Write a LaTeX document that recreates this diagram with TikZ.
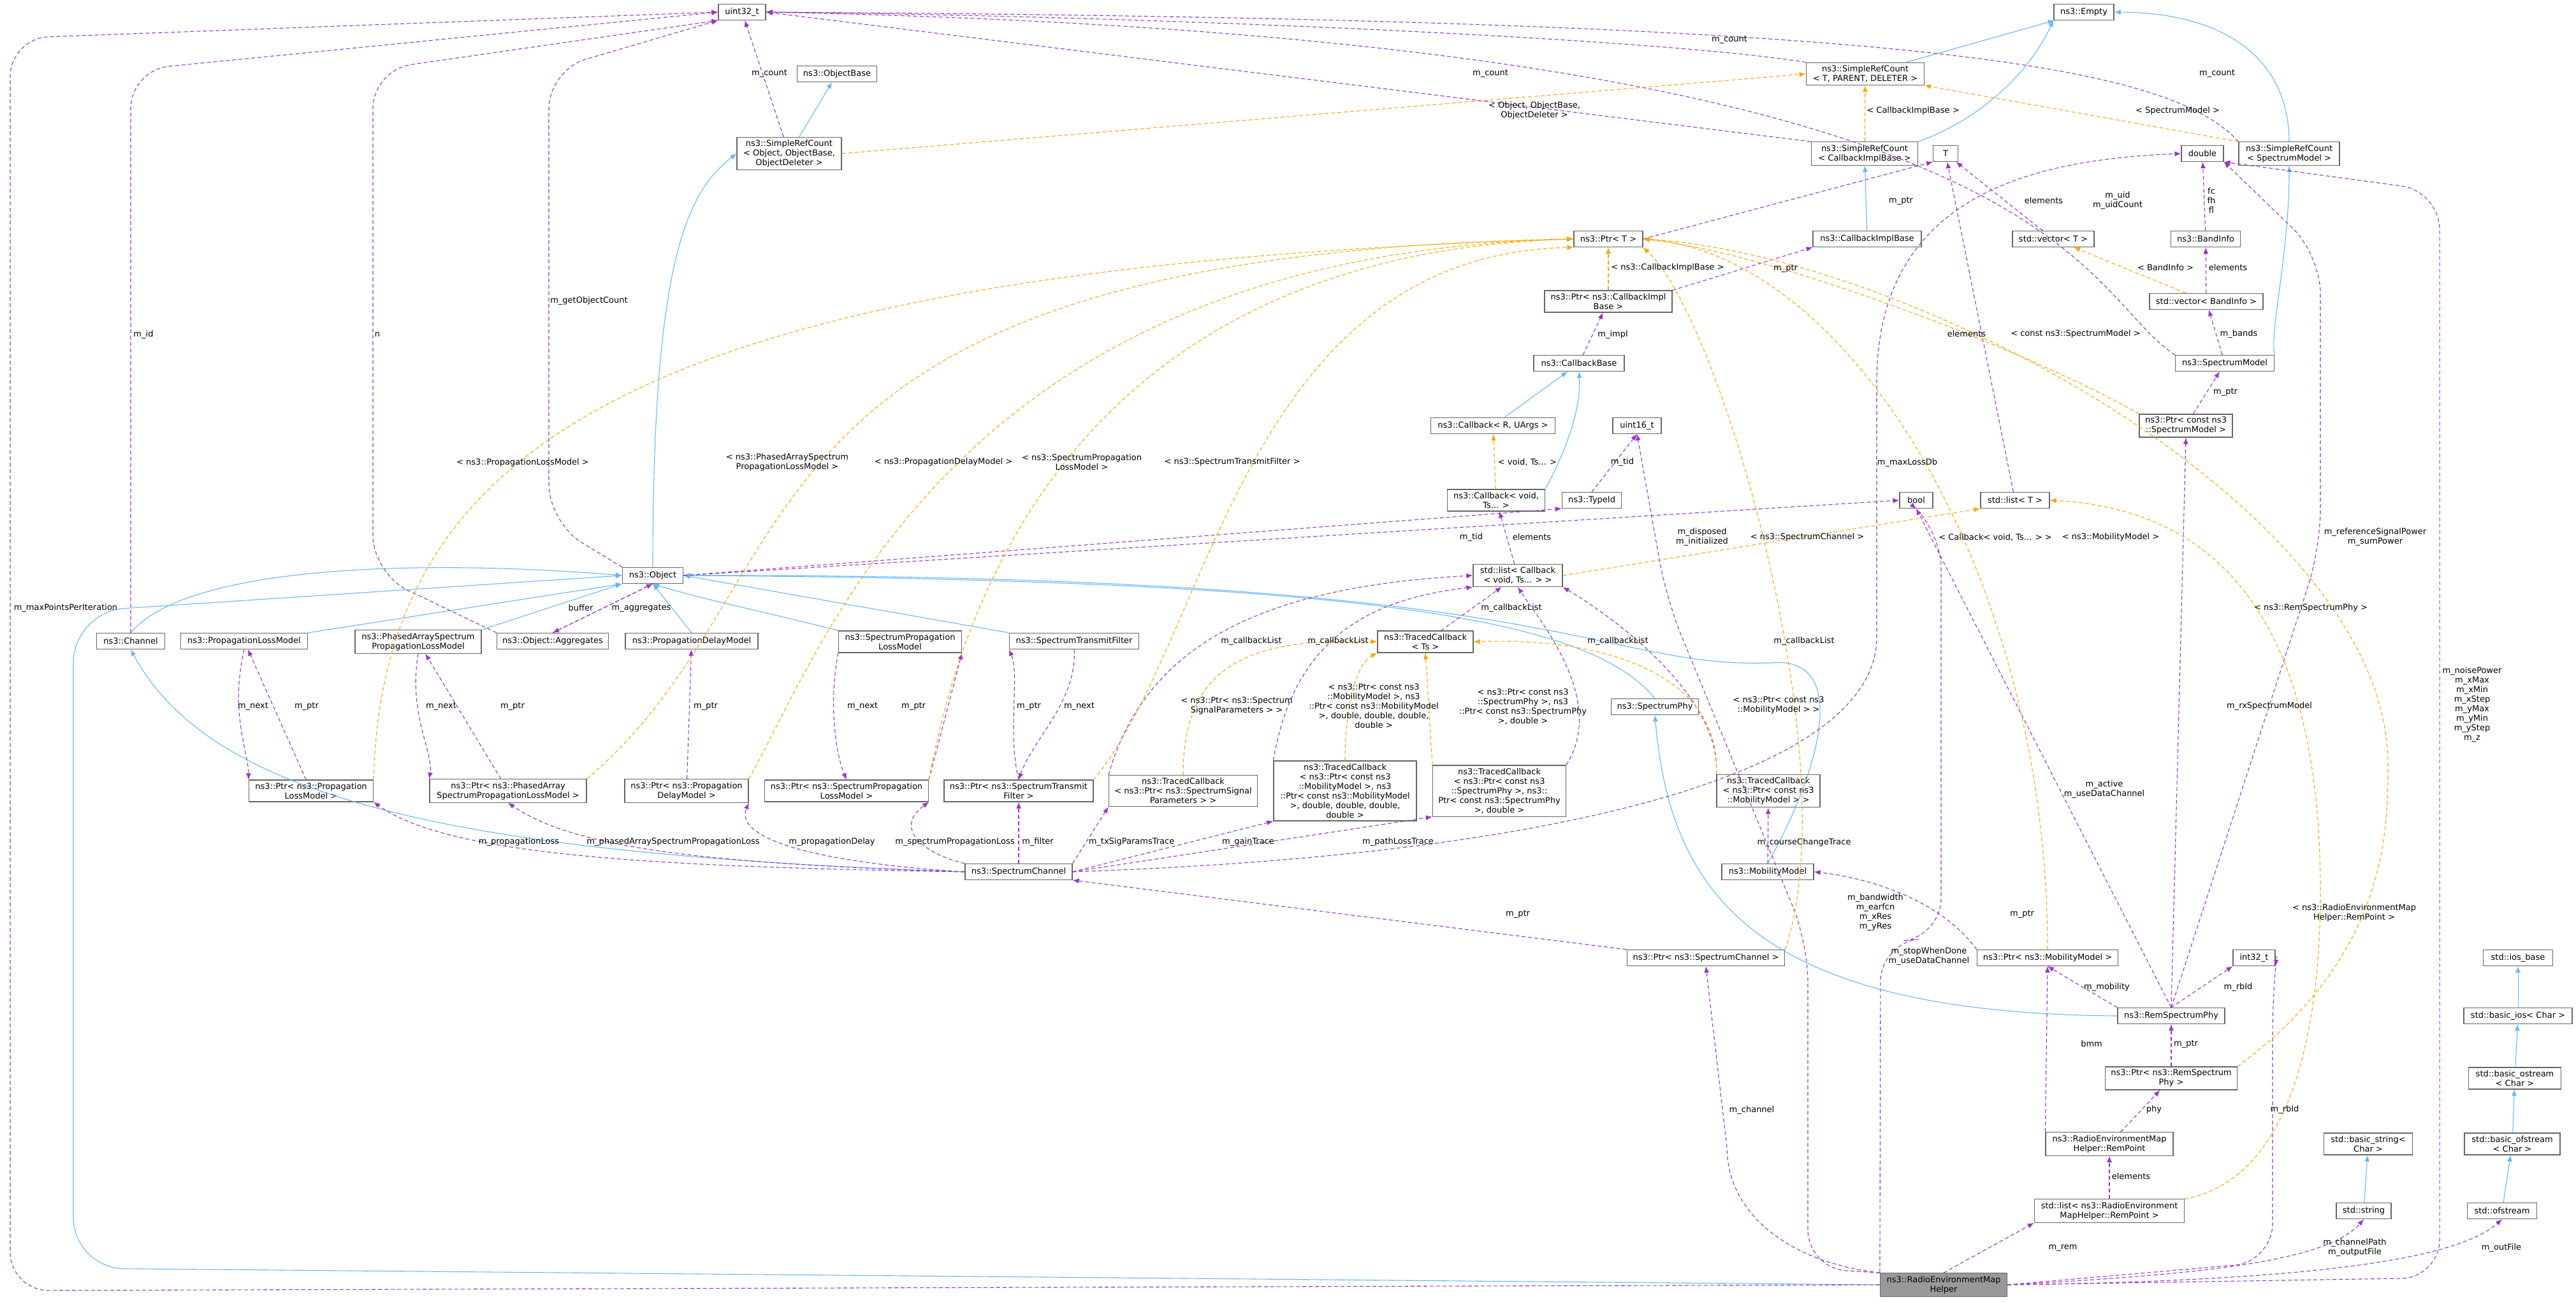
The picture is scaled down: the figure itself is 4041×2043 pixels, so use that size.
\documentclass[tikz,border=0pt]{standalone}
\usepackage{fontspec}
\setmainfont{DejaVu Sans}
\usetikzlibrary{arrows.meta}
\definecolor{memc}{RGB}{154,50,205}
\definecolor{inhc}{RGB}{99,184,255}
\definecolor{tplc}{RGB}{255,165,0}
\newcounter{lb}
\newcommand\cls[5][]{\node[cls,minimum width={#4*0.5pt},#1] (#2) at (#3) {#5};}
\newcommand\lbl[2]{\stepcounter{lb}\node[lbl] (lab\thelb) at (#1) {#2};}
\tikzset{
  cls/.style={draw=black!60,fill=white,line width=0.6pt,align=center,inner xsep=2pt,inner ysep=2.2pt,minimum height=12.5pt,font=\fontsize{6.5}{7.5}\selectfont},
  lbl/.style={align=center,inner sep=0pt,font=\fontsize{6.5}{7.5}\selectfont},
  mem/.style={draw=memc,dash pattern=on 3pt off 2pt,line width=0.55pt,-{Latex[length=5pt,width=4pt]}},
  inh/.style={draw=inhc,line width=0.55pt,-{Latex[length=5pt,width=4pt]}},
  tpl/.style={draw=tplc,dash pattern=on 3pt off 2pt,line width=0.55pt,-{Latex[length=5pt,width=4pt]}}
}
\begin{document}
\begin{tikzpicture}[x=0.5pt,y=-0.5pt]
	\useasboundingbox (0,0) rectangle (4041,2043);
	
	%classes
	\cls{u32}{1164,19}{74}{uint32\_t}
	\cls{objb}{1313,116}{125}{ns3::ObjectBase}
	\cls{srcobj}{1238,241}{164}{ns3::SimpleRefCount\\< Object, ObjectBase,\\ObjectDeleter >}
	\cls{empty}{3269,19}{94}{ns3::Empty}
	\cls{srctpd}{2926,116}{185}{ns3::SimpleRefCount\\< T, PARENT, DELETER >}
	\cls{srccib}{2925,241}{167}{ns3::SimpleRefCount\\< CallbackImplBase >}
	\cls{tt}{3052,241}{39}{T}
	\cls{dbl}{3455,241}{66}{double}
	\cls{srcsm}{3591,241}{158}{ns3::SimpleRefCount\\< SpectrumModel >}
	\cls{ptrt}{2523,375}{108}{ns3::Ptr< T >}
	\cls{cib}{2929,375}{170}{ns3::CallbackImplBase}
	\cls{vect}{3221,375}{128}{std::vector< T >}
	\cls{band}{3460,375}{109}{ns3::BandInfo}
	\cls{ptrcib}{2523,473}{200}{ns3::Ptr< ns3::CallbackImpl\\Base >}
	\cls{vecband}{3461,473}{178}{std::vector< BandInfo >}
	\cls{cbb}{2477,570}{142}{ns3::CallbackBase}
	\cls{spm}{3490,570}{155}{ns3::SpectrumModel}
	\cls{cbr}{2342,668}{195}{ns3::Callback< R, UArgs >}
	\cls{u16}{2568,668}{76}{uint16\_t}
	\cls{ptrsm}{3429,668}{146}{ns3::Ptr< const ns3\\::SpectrumModel >}
	\cls{cbv}{2347,785}{153}{ns3::Callback< void,\\ Ts... >}
	\cls{tid}{2497,785}{93}{ns3::TypeId}
	\cls{bool}{3006,785}{52}{bool}
	\cls{lstt}{3161,785}{108}{std::list< T >}
	\cls{obj}{1024,903}{95}{ns3::Object}
	\cls{lstcb}{2381,903}{140}{std::list< Callback\\< void, Ts... > >}
	\cls{ch}{205,1006}{107}{ns3::Channel}
	\cls{plm}{383,1006}{199}{ns3::PropagationLossModel}
	\cls{paplm}{656,1007}{198}{ns3::PhasedArraySpectrum\\PropagationLossModel}
	\cls{agg}{867,1006}{175}{ns3::Object::Aggregates}
	\cls{pdm}{1085,1006}{208}{ns3::PropagationDelayModel}
	\cls{splm}{1412,1007}{193}{ns3::SpectrumPropagation\\LossModel}
	\cls{stf}{1685,1006}{203}{ns3::SpectrumTransmitFilter}
	\cls{tcts}{2236,1007}{150}{ns3::TracedCallback\\< Ts >}
	\cls{sphy}{2596,1109}{137}{ns3::SpectrumPhy}
	\cls{pplm}{488,1241}{195}{ns3::Ptr< ns3::Propagation\\LossModel >}
	\cls{ppaplm}{797,1241}{246}{ns3::Ptr< ns3::PhasedArray\\SpectrumPropagationLossModel >}
	\cls{ppdm}{1077,1241}{194}{ns3::Ptr< ns3::Propagation\\DelayModel >}
	\cls{psplm}{1328,1241}{257}{ns3::Ptr< ns3::SpectrumPropagation\\LossModel >}
	\cls{pstf}{1598,1241}{234}{ns3::Ptr< ns3::SpectrumTransmit\\Filter >}
	\cls{tcsig}{1856,1241}{233}{ns3::TracedCallback\\< ns3::Ptr< ns3::SpectrumSignal\\Parameters > >}
	\cls{tcmob}{2110,1241}{224}{ns3::TracedCallback\\< ns3::Ptr< const ns3\\::MobilityModel >, ns3\\::Ptr< const ns3::MobilityModel\\>, double, double, double,\\double >}
	\cls{tcphy}{2352,1241}{209}{ns3::TracedCallback\\< ns3::Ptr< const ns3\\::SpectrumPhy >, ns3::\\Ptr< const ns3::SpectrumPhy\\>, double >}
	\cls{tcmm}{2774,1241}{162}{ns3::TracedCallback\\< ns3::Ptr< const ns3\\::MobilityModel > >}
	\cls{sc}{1598,1368}{168}{ns3::SpectrumChannel}
	\cls{mm}{2773,1368}{144}{ns3::MobilityModel}
	\cls{psc}{2676,1503}{247}{ns3::Ptr< ns3::SpectrumChannel >}
	\cls{pmm}{3212,1503}{221}{ns3::Ptr< ns3::MobilityModel >}
	\cls{i32}{3536,1503}{66}{int32\_t}
	\cls{iosb}{3950,1503}{109}{std::ios\_base}
	\cls{rsp}{3406,1594}{168}{ns3::RemSpectrumPhy}
	\cls{bios}{3950,1594}{170}{std::basic\_ios< Char >}
	\cls{prsp}{3406,1692}{207}{ns3::Ptr< ns3::RemSpectrum\\Phy >}
	\cls{bost}{3945,1692}{145}{std::basic\_ostream\\< Char >}
	\cls{rpt}{3309,1795}{200}{ns3::RadioEnvironmentMap\\Helper::RemPoint}
	\cls{bstr}{3715,1795}{139}{std::basic\_string<\\Char >}
	\cls{bofs}{3941,1795}{150}{std::basic\_ofstream\\< Char >}
	\cls{lrp}{3309,1900}{235}{std::list< ns3::RadioEnvironment\\MapHelper::RemPoint >}
	\cls{str}{3708,1900}{86}{std::string}
	\cls{ofs}{3925,1900}{109}{std::ofstream}
	\cls[fill=black!40]{hlp}{3049,2016}{199}{ns3::RadioEnvironmentMap\\Helper}
	
	%inheritance
	\draw[inh] (srcobj) -- (objb);
	\draw[inh] (obj.north) .. controls (1024,400) and (1080,300) .. (srcobj.west);
	\draw[inh] (srctpd) -- (empty);
	\draw[inh] (srccib.north east) .. controls (3100,190) and (3180,120) .. (empty.south west);
	\draw[inh] (srcsm.north) .. controls (3591,100) and (3500,20) .. (empty.east);
	\draw[inh] (cib) -- (srccib);
	\draw[inh] (spm.north east) .. controls (3560,520) and (3591,400) .. (srcsm.south);
	\draw[inh] (cbr) -- (cbb);
	\draw[inh] (cbv.north east) .. controls (2460,700) and (2480,640) .. (cbb.south);
	\draw[inh] (ch.north) .. controls (300,880) and (700,880) .. (obj.west);
	\draw[inh] (plm.north east) -- (obj.south west);
	\draw[inh] (paplm.north east) -- (obj.south west);
	\draw[inh] (pdm.north) -- (obj.south);
	\draw[inh] (splm.north west) .. controls (1200,960) and (1100,940) .. (obj.south);
	\draw[inh] (stf.north west) -- (obj.east);
	\draw[inh] (sphy.north) .. controls (2500,980) and (2200,910) .. (obj.east);
	\draw[inh] (mm.north) .. controls (2860,1200) and (2900,1030) .. (2780,1040) .. controls (2500,1050) and (2470,900) .. (obj.east);
	\draw[inh,rounded corners=40pt] (hlp.west) -- (115,1990) -- (115,960) -- (obj.west);
	\draw[inh] (sc.west) .. controls (700,1340) and (330,1250) .. (ch.south);
	\draw[inh] (rsp.west) .. controls (2750,1590) and (2620,1400) .. (sphy.south);
	\draw[inh] (bios) -- (iosb);
	\draw[inh] (bost) -- (bios);
	\draw[inh] (bofs) -- (bost);
	\draw[inh] (ofs) -- (bofs);
	\draw[inh] (str) -- (bstr);
	
	%members
	\draw[mem,rounded corners=30pt] (hlp.west) -- (16,2025) -- (16,60) -- (u32.west);
	\draw[mem,rounded corners=30pt] (ch.north) -- (205,110) -- (u32.west);
	\draw[mem,rounded corners=30pt] (agg.north west) -- (585,900) -- (585,110) -- (u32.south west);
	\draw[mem,rounded corners=30pt] (obj.north west) -- (861,820) -- (861,110) -- (u32.south west);
	\draw[mem] (srcobj) -- (u32);
	\draw[mem] (srccib.north west) -- (u32.east);
	\draw[mem] (srctpd.north west) .. controls (2600,60) and (1800,25) .. (u32.east);
	\draw[mem] (srcsm.north west) .. controls (3400,100) and (3000,30) .. (u32.east);
	\draw[mem] (spm.north west) .. controls (3250,450) and (3250,60) .. (u32.east);
	\draw[mem] (ptrt.east) -- (tt.south west);
	\draw[mem] (vect) -- (tt);
	\draw[mem] (lstt) -- (tt);
	\draw[mem] (ptrcib.north east) -- (cib.south west);
	\draw[mem] (cbb) -- (ptrcib);
	\draw[mem] (obj.east) -- (tid.south west);
	\draw[mem] (tid.north) -- (u16.south);
	\draw[mem] (obj.east) -- (bool.west);
	\draw[mem] (obj.south) -- (agg.north);
	\draw[mem] (agg.north) -- (obj.south);
	\draw[mem] (lstcb) -- (cbv);
	\draw[mem] (tcts) -- (lstcb);
	\draw[mem] (tcsig.north west) .. controls (1800,1000) and (2000,920) .. (lstcb.west);
	\draw[mem] (tcmob.north west) .. controls (2030,1000) and (2150,940) .. (lstcb.south west);
	\draw[mem] (tcphy.north east) .. controls (2520,1100) and (2420,980) .. (lstcb.south);
	\draw[mem] (tcmm.north west) .. controls (2700,1100) and (2550,980) .. (lstcb.south east);
	\draw[mem] (band) -- (dbl);
	\draw[mem] (vecband) -- (band);
	\draw[mem] (spm) -- (vecband);
	\draw[mem] (ptrsm) -- (spm);
	\draw[mem] (pplm) -- (plm);
	\draw[mem] (plm.south) .. controls (360,1120) and (390,1180) .. (pplm.north west);
	\draw[mem] (ppaplm) -- (paplm);
	\draw[mem] (paplm.south) .. controls (640,1120) and (680,1180) .. (ppaplm.north west);
	\draw[mem] (ppdm) -- (pdm);
	\draw[mem] (psplm.north east) -- (splm.south east);
	\draw[mem] (splm.south west) .. controls (1300,1100) and (1310,1180) .. (psplm.north);
	\draw[mem] (pstf.north) .. controls (1580,1150) and (1600,1060) .. (stf.south west);
	\draw[mem] (stf.south) .. controls (1690,1100) and (1620,1160) .. (pstf.north);
	\draw[mem] (sc.west) .. controls (1000,1360) and (700,1340) .. (pplm.south east);
	\draw[mem] (sc.west) .. controls (1100,1355) and (900,1330) .. (ppaplm.south);
	\draw[mem] (sc.west) .. controls (1300,1355) and (1150,1320) .. (ppdm.south east);
	\draw[mem] (sc.north west) .. controls (1450,1340) and (1400,1300) .. (psplm.south east);
	\draw[mem] (sc.north) -- (pstf.south);
	\draw[mem] (sc.north east) -- (tcsig.south west);
	\draw[mem] (sc.east) -- (tcmob.south west);
	\draw[mem] (sc.east) -- (tcphy.south west);
	\draw[mem] (sc.east) .. controls (2500,1340) and (2944,1200) .. (2944,1000) -- (2944,600) .. controls (2944,300) and (3200,250) .. (dbl.west);
	\draw[mem] (psc.north west) -- (sc.south east);
	\draw[mem] (mm) -- (tcmm);
	\draw[mem] (pmm.north west) .. controls (3050,1420) and (2950,1380) .. (mm.east);
	\draw[mem] (rsp.north west) -- (pmm.south);
	\draw[mem] (rsp.north) -- (i32.south west);
	\draw[mem] (rsp.north) -- (bool.south);
	\draw[mem] (rsp.north) -- (ptrsm.south);
	\draw[mem,rounded corners=30pt] (rsp.north) -- (3640,860) -- (3640,400) -- (dbl.south east);
	\draw[mem] (prsp) -- (rsp);
	\draw[mem] (rpt) -- (prsp);
	\draw[mem] (rpt.north west) -- (pmm.south);
	\draw[mem] (lrp) -- (rpt);
	\draw[mem] (hlp.north west) .. controls (2800,1980) and (2709,1900) .. (2709,1800) -- (psc.south);
	\draw[mem] (hlp.north) -- (lrp.south west);
	\draw[mem] (hlp.east) .. controls (3450,2000) and (3650,1980) .. (str.south);
	\draw[mem] (hlp.east) .. controls (3600,2010) and (3850,1980) .. (ofs.south);
	\draw[mem,rounded corners=30pt] (hlp.east) -- (3565,1980) -- (3565,1560) -- (i32.south east);
	\draw[mem,rounded corners=30pt] (hlp.east) -- (3827,2005) -- (3827,300) -- (dbl.south east);
	\draw[mem,rounded corners=30pt] (hlp.north west) -- (2950,1480) -- (3045,1470) -- (3045,830) -- (bool.south);
	\draw[mem,rounded corners=30pt] (hlp.north west) -- (2836,1990) -- (2836,1480) -- (2614,940) -- (u16.south);
	
	%templates
	\draw[tpl] (srcobj.east) -- (srctpd.west);
	\draw[tpl] (srccib) -- (srctpd);
	\draw[tpl] (srcsm.north west) -- (srctpd.south east);
	\draw[tpl] (ptrcib) -- (ptrt);
	\draw[tpl] (pplm.north east) .. controls (600,700) and (1000,420) .. (ptrt.west);
	\draw[tpl] (ppaplm.north east) .. controls (1300,900) and (1100,400) .. (ptrt.west);
	\draw[tpl] (ppdm.north east) .. controls (1300,1000) and (1500,400) .. (ptrt.west);
	\draw[tpl] (psplm.north east) .. controls (1500,1000) and (1650,400) .. (ptrt.west);
	\draw[tpl] (pstf.north east) .. controls (1900,1000) and (1950,400) .. (ptrt.south west);
	\draw[tpl] (psc.north east) .. controls (2900,1200) and (2700,500) .. (ptrt.south east);
	\draw[tpl] (pmm.north) .. controls (3212,900) and (2900,400) .. (ptrt.east);
	\draw[tpl] (prsp.north east) .. controls (3746,1500) and (3746,1300) .. (3746,1200) .. controls (3746,800) and (3000,400) .. (ptrt.east);
	\draw[tpl] (ptrsm.north west) .. controls (3200,560) and (2800,400) .. (ptrt.east);
	\draw[tpl] (cbv) -- (cbr);
	\draw[tpl] (lstcb.east) -- (lstt.south west);
	\draw[tpl] (lrp.north east) .. controls (3600,1850) and (3640,1600) .. (3640,1400) .. controls (3640,1000) and (3500,800) .. (lstt.east);
	\draw[tpl] (vecband) -- (vect);
	\draw[tpl] (tcsig.north) .. controls (1856,1050) and (1950,1000) .. (tcts.west);
	\draw[tpl] (tcmob.north) .. controls (2110,1100) and (2130,1040) .. (tcts.south west);
	\draw[tpl] (tcphy.north west) -- (tcts.south);
	\draw[tpl] (tcmm.north west) .. controls (2700,1050) and (2500,1000) .. (tcts.east);
	
	%labels
	\lbl{1207,115}{m\_count}
	\lbl{225,525}{m\_id}
	\lbl{592,525}{n}
	\lbl{924,472}{m\_getObjectCount}
	\lbl{103,954}{m\_maxPointsPerIteration}
	\lbl{820,726}{< ns3::PropagationLossModel >}
	\lbl{1235,725}{< ns3::PhasedArraySpectrum\\PropagationLossModel >}
	\lbl{1480,725}{< ns3::PropagationDelayModel >}
	\lbl{1697,725}{< ns3::SpectrumPropagation\\LossModel >}
	\lbl{1933,725}{< ns3::SpectrumTransmitFilter >}
	\lbl{911,954}{buffer}
	\lbl{1006,954}{m\_aggregates}
	\lbl{397,1108}{m\_next}
	\lbl{481,1108}{m\_ptr}
	\lbl{692,1108}{m\_next}
	\lbl{804,1108}{m\_ptr}
	\lbl{1107,1108}{m\_ptr}
	\lbl{1353,1108}{m\_next}
	\lbl{1433,1108}{m\_ptr}
	\lbl{1614,1108}{m\_ptr}
	\lbl{1693,1108}{m\_next}
	\lbl{814,1321}{m\_propagationLoss}
	\lbl{1056,1321}{m\_phasedArraySpectrumPropagationLoss}
	\lbl{1305,1321}{m\_propagationDelay}
	\lbl{1498,1321}{m\_spectrumPropagationLoss}
	\lbl{1628,1321}{m\_filter}
	\lbl{1775,1321}{m\_txSigParamsTrace}
	\lbl{1958,1321}{m\_gainTrace}
	\lbl{2193,1321}{m\_pathLossTrace}
	\lbl{2830,1322}{m\_courseChangeTrace}
	\lbl{2338,115}{m\_count}
	\lbl{2713,62}{m\_count}
	\lbl{2407,173}{< Object, ObjectBase,\\ObjectDeleter >}
	\lbl{2616,420}{< ns3::CallbackImplBase >}
	\lbl{2530,525}{m\_impl}
	\lbl{2396,725}{< void, Ts... >}
	\lbl{2545,725}{m\_tid}
	\lbl{2308,843}{m\_tid}
	\lbl{2403,843}{elements}
	\lbl{2670,843}{m\_disposed\\m\_initialized}
	\lbl{2371,954}{m\_callbackList}
	\lbl{1963,1006}{m\_callbackList}
	\lbl{2099,1006}{m\_callbackList}
	\lbl{2538,1006}{m\_callbackList}
	\lbl{2830,1006}{m\_callbackList}
	\lbl{1940,1108}{< ns3::Ptr< ns3::Spectrum\\SignalParameters > >}
	\lbl{2155,1108}{< ns3::Ptr< const ns3\\::MobilityModel >, ns3\\::Ptr< const ns3::MobilityModel\\>, double, double, double,\\double >}
	\lbl{2389,1109}{< ns3::Ptr< const ns3\\::SpectrumPhy >, ns3\\::Ptr< const ns3::SpectrumPhy\\>, double >}
	\lbl{2790,1107}{< ns3::Ptr< const ns3\\::MobilityModel > >}
	\lbl{3001,174}{< CallbackImplBase >}
	\lbl{3478,115}{m\_count}
	\lbl{3416,174}{< SpectrumModel >}
	\lbl{2982,315}{m\_ptr}
	\lbl{3206,315}{elements}
	\lbl{3322,315}{m\_uid\\m\_uidCount}
	\lbl{3469,315}{fc\\fh\\fl}
	\lbl{2801,421}{m\_ptr}
	\lbl{3397,420}{< BandInfo >}
	\lbl{3495,420}{elements}
	\lbl{3085,524}{elements}
	\lbl{3256,524}{< const ns3::SpectrumModel >}
	\lbl{3512,524}{m\_bands}
	\lbl{3491,615}{m\_ptr}
	\lbl{2992,726}{m\_maxLossDb}
	\lbl{2835,843}{< ns3::SpectrumChannel >}
	\lbl{3130,843}{< Callback< void, Ts... > >}
	\lbl{3311,843}{< ns3::MobilityModel >}
	\lbl{3726,843}{m\_referenceSignalPower\\m\_sumPower}
	\lbl{3625,954}{< ns3::RemSpectrumPhy >}
	\lbl{3878,1106}{m\_noisePower\\m\_xMax\\m\_xMin\\m\_xStep\\m\_yMax\\m\_yMin\\m\_yStep\\m\_z}
	\lbl{3560,1108}{m\_rxSpectrumModel}
	\lbl{3301,1239}{m\_active\\m\_useDataChannel}
	\lbl{2942,1432}{m\_bandwidth\\m\_earfcn\\m\_xRes\\m\_yRes}
	\lbl{3172,1434}{m\_ptr}
	\lbl{3693,1432}{< ns3::RadioEnvironmentMap\\Helper::RemPoint >}
	\lbl{3026,1501}{m\_stopWhenDone\\m\_useDataChannel}
	\lbl{2381,1434}{m\_ptr}
	\lbl{2748,1742}{m\_channel}
	\lbl{3305,1549}{m\_mobility}
	\lbl{3511,1549}{m\_rbId}
	\lbl{3281,1638}{bmm}
	\lbl{3429,1638}{m\_ptr}
	\lbl{3379,1741}{phy}
	\lbl{3584,1741}{m\_rbId}
	\lbl{3343,1846}{elements}
	\lbl{3236,1958}{m\_rem}
	\lbl{3694,1958}{m\_channelPath\\m\_outputFile}
	\lbl{3924,1958}{m\_outFile}
	\end{tikzpicture}
\end{document}
